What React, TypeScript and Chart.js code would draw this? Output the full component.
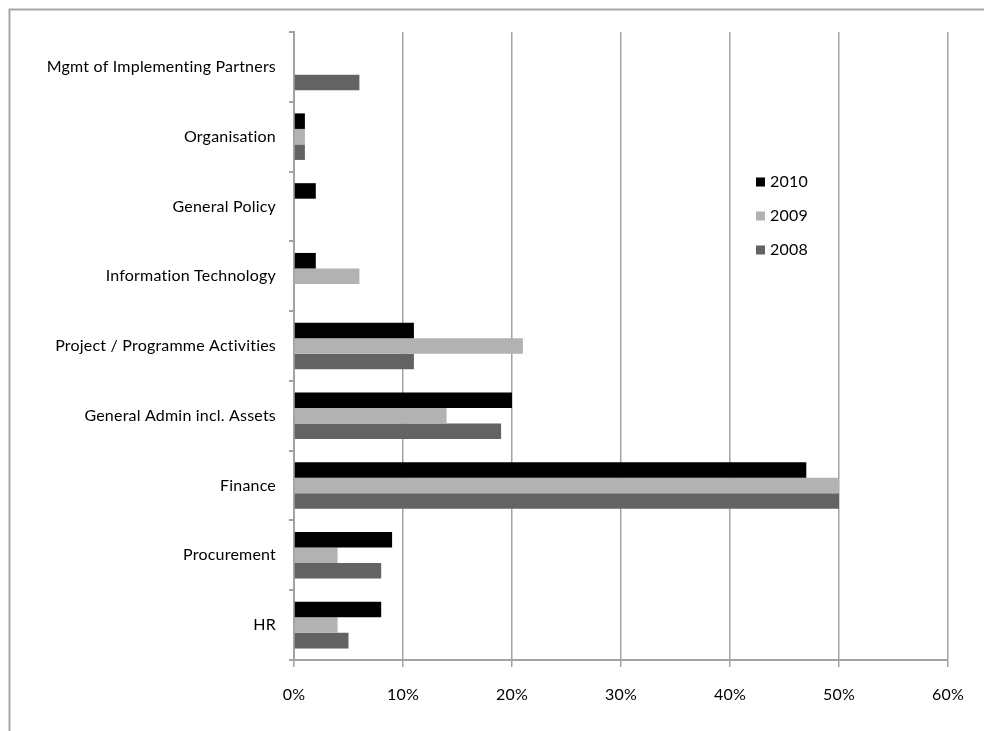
import React, { useEffect, useRef } from "react";
import { Chart, registerables } from "chart.js";

Chart.register(...registerables);

// Share of findings per area, by year (%)
const categories = [
  "Mgmt of Implementing Partners",
  "Organisation",
  "General Policy",
  "Information Technology",
  "Project / Programme Activities",
  "General Admin incl. Assets",
  "Finance",
  "Procurement",
  "HR",
];

const years = ["2010", "2009", "2008"];

const values2010 = [0, 1, 2, 2, 11, 20, 47, 9, 8];
const values2009 = [0, 1, 0, 6, 21, 14, 50, 4, 4];
const values2008 = [6, 1, 0, 0, 11, 19, 50, 8, 5];

const xTicks = [0, 10, 20, 30, 40, 50, 60];

const seriesColors = ["#000000", "#b2b2b2", "#636363"];

const FONT = "Lato, 'Noto Sans', sans-serif";
const GRID = "#a3a3a3";

// Outer frame of the chart object (top and left edges); also sets text spacing
const framePlugin = {
  id: "frame",
  beforeDraw(chart: Chart) {
    const ctx = chart.ctx as any;
    ctx.letterSpacing = "0.2px";
    ctx.save();
    ctx.strokeStyle = "#a6a6a6";
    ctx.lineWidth = 2;
    ctx.beginPath();
    ctx.moveTo(9.5, chart.height);
    ctx.lineTo(9.5, 9.5);
    ctx.lineTo(chart.width, 9.5);
    ctx.stroke();
    ctx.restore();
  },
};

// Vertical legend inside the plot area
const legendPlugin = {
  id: "sideLegend",
  afterDraw(chart: Chart) {
    const ctx = chart.ctx;
    const area = chart.chartArea;
    const x0 = area.left + 462;
    const y0 = area.top + 150;
    ctx.save();
    ctx.font = `16px ${FONT}`;
    ctx.textBaseline = "middle";
    ctx.textAlign = "left";
    chart.data.datasets.forEach((ds, i) => {
      const y = y0 + i * 34;
      ctx.fillStyle = ds.backgroundColor as string;
      ctx.fillRect(x0, y - 4.5, 9, 9);
      ctx.fillStyle = "#000";
      ctx.fillText(ds.label as string, x0 + 14, y);
    });
    ctx.restore();
  },
};

export default function App() {
  const canvasRef = useRef<HTMLCanvasElement | null>(null);

  useEffect(() => {
    if (!canvasRef.current) return;
    const chart = new Chart(canvasRef.current, {
      type: "bar",
      data: {
        labels: categories,
        datasets: [values2010, values2009, values2008].map((vals, i) => ({
          label: years[i],
          data: vals,
          backgroundColor: seriesColors[i],
          borderWidth: 0,
          barPercentage: 1,
          categoryPercentage: 0.667,
        })),
      },
      options: {
        indexAxis: "y",
        animation: false,
        responsive: false,
        maintainAspectRatio: false,
        layout: { padding: { top: 32, right: 36, left: 0, bottom: 0 } },
        plugins: {
          legend: { display: false },
          tooltip: { enabled: false },
        },
        scales: {
          x: {
            type: "linear",
            min: 0,
            max: 60,
            afterBuildTicks(scale: any) {
              scale.ticks = xTicks.map((v) => ({ value: v }));
            },
            afterFit(scale: any) {
              scale.height = 71;
            },
            ticks: {
              callback: (v: any) => `${v}%`,
              color: "#000",
              font: { family: FONT, size: 16 },
              padding: 18,
              maxRotation: 0,
            },
            grid: {
              color: GRID,
              lineWidth: 1.5,
              tickLength: 7,
              drawTicks: true,
            },
            border: { display: true, color: GRID, width: 2 },
          },
          y: {
            afterFit(scale: any) {
              scale.width = 294;
            },
            ticks: {
              color: "#000",
              font: { family: FONT, size: 16 },
              padding: 13,
              autoSkip: false,
            },
            grid: {
              offset: true,
              drawOnChartArea: false,
              drawTicks: true,
              tickLength: 5,
              color: GRID,
              lineWidth: 2,
            },
            border: { display: true, color: GRID, width: 2 },
          },
        },
      },
      plugins: [framePlugin, legendPlugin],
    });
    return () => chart.destroy();
  }, []);

  return (
    <div style={{ position: "fixed", left: 0, top: 0, width: 984, height: 731, background: "#fff" }}>
      <canvas ref={canvasRef} width={984} height={731} style={{ display: "block" }} />
    </div>
  );
}
